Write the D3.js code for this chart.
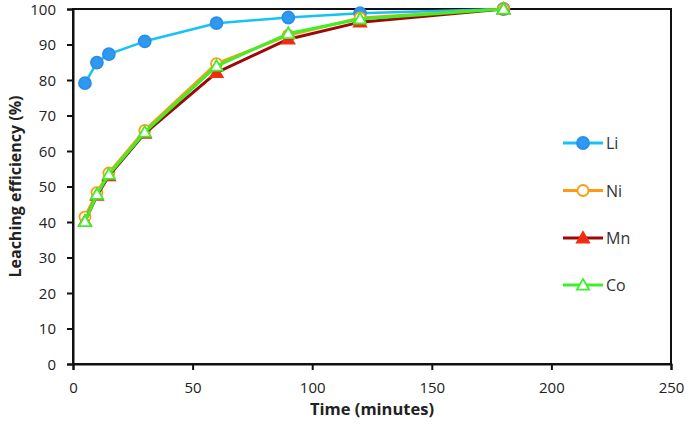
<!DOCTYPE html>
<html><head><meta charset="utf-8">
<script src="https://cdn.jsdelivr.net/npm/d3@7"></script>
<style>body{margin:0;background:#fff}svg{display:block}text{font-family:"Open Sans",sans-serif}</style>
</head><body>
<svg id="c" width="689" height="424"></svg>
<script>
const times = [5, 10, 15, 30, 60, 90, 120, 180];
const li = [79.1, 84.9, 87.3, 90.9, 96.0, 97.6, 98.8, 100];
const ni = [41.4, 48.3, 53.8, 65.8, 84.6, 92.6, 97.5, 100];
const mn = [40.2, 47.5, 53.0, 65.0, 82.1, 91.5, 96.3, 100];
const co = [40.1, 47.8, 53.4, 65.3, 83.9, 93.1, 97.2, 100];
const seriesNames = ["Li", "Ni", "Mn", "Co"];
const xTicks = [0, 50, 100, 150, 200, 250];
const yTicks = [0, 10, 20, 30, 40, 50, 60, 70, 80, 90, 100];

const series = [
  {name: "Li", values: li, line: "#14c3f5", lw: 2.5, shape: "circle", fill: "#2f98f0", stroke: "#2a8fe8"},
  {name: "Ni", values: ni, line: "#ff9a10", lw: 3, shape: "circle", fill: "#ffffff", stroke: "#ff9a10"},
  {name: "Mn", values: mn, line: "#a00808", lw: 3, shape: "triangle", fill: "#f02a10", stroke: "#f03010"},
  {name: "Co", values: co, line: "#3cf02a", lw: 3, shape: "triangle", fill: "#ffffff", stroke: "#3cf02a"}
];

const svg = d3.select("#c");
const L = 73, R = 671, T = 9, B = 364;
const x = d3.scaleLinear().domain([0, 250]).range([L, R]);
const y = d3.scaleLinear().domain([0, 100]).range([B, T]);

// frame
svg.append("rect").attr("x", L).attr("y", T).attr("width", R - L).attr("height", B - T)
  .attr("fill", "none").attr("stroke", "#111").attr("stroke-width", 2);

const xAxis = svg.append("g").attr("transform", `translate(0,${B})`)
  .call(d3.axisBottom(x).tickValues(xTicks).tickSize(6).tickPadding(12));
const yAxis = svg.append("g").attr("transform", `translate(${L},0)`)
  .call(d3.axisLeft(y).tickValues(yTicks).tickSize(6).tickPadding(11));
[xAxis, yAxis].forEach(a => {
  a.select(".domain").attr("stroke", "#111").attr("stroke-width", 2);
  a.selectAll(".tick line").attr("stroke", "#111").attr("stroke-width", 2);
  a.selectAll(".tick text").attr("fill", "#222").style("font-size", "15px");
});
yAxis.selectAll(".tick text").attr("dy", "0.36em");

svg.append("text").attr("x", (L + R) / 2).attr("y", 415).attr("text-anchor", "middle")
  .style("font-size", "16.5px").style("font-weight", "bold").attr("fill", "#222").text("Time (minutes)");
svg.append("text").attr("transform", `translate(21,${(T + B) / 2}) rotate(-90)`).attr("text-anchor", "middle")
  .style("font-size", "16px").style("font-weight", "bold").attr("fill", "#222").text("Leaching efficiency (%)");

const line = d3.line().x(d => x(d[0])).y(d => y(d[1]));
const tri = d3.symbol().type(d3.symbolTriangle).size(65);

function marker(g, s, cx, cy) {
  if (s.shape === "circle") {
    g.append("circle").attr("cx", cx).attr("cy", cy).attr("r", s.name === "Li" ? 6 : 5.5)
      .attr("fill", s.fill).attr("stroke", s.stroke).attr("stroke-width", 1.8);
  } else {
    g.append("path").attr("d", tri).attr("transform", `translate(${cx},${cy + 1})`)
      .attr("fill", s.fill).attr("stroke", s.stroke).attr("stroke-width", 1.8);
  }
}

series.forEach(s => {
  const data = times.map((t, i) => [t, s.values[i]]);
  const g = svg.append("g");
  g.append("path").datum(data).attr("d", line).attr("fill", "none")
    .attr("stroke", s.line).attr("stroke-width", s.lw).attr("stroke-linejoin", "round");
  data.forEach(d => marker(g, s, x(d[0]), y(d[1])));
});

// legend
const legY = [143, 190.5, 238, 285];
series.forEach((s, i) => {
  const g = svg.append("g");
  g.append("line").attr("x1", 563).attr("x2", 603).attr("y1", legY[i]).attr("y2", legY[i])
    .attr("stroke", s.line).attr("stroke-width", 3);
  marker(g, s, 583, legY[i]);
  g.append("text").attr("x", 606).attr("y", legY[i] + 6).style("font-size", "16px")
    .attr("fill", "#333").text(seriesNames[i]);
});
</script>
</body></html>
